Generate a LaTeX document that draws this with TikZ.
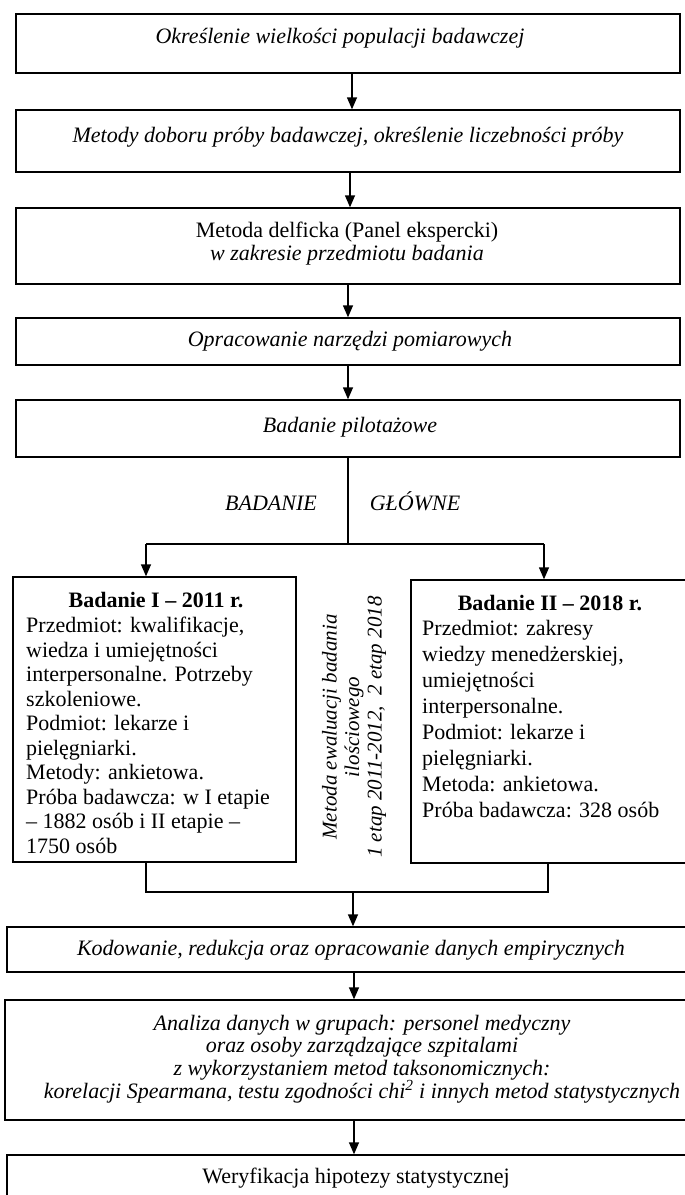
\documentclass[tikz,border=0pt]{standalone}
\usepackage{fontspec}
\setmainfont{Liberation Serif}
\usetikzlibrary{arrows.meta}

\tikzset{
  frame/.style={draw, line width=1.4pt, inner sep=0pt},
  flow/.style={line width=1.4pt},
  arr/.style={flow, -{Triangle[width=10pt,length=12pt]}},
  ital/.style={font=\fontsize{22}{23}\selectfont\itshape, inner sep=0pt,
               text height=15pt, text depth=5pt},
  italblock/.style={font=\fontsize{22}{23}\selectfont\itshape, inner sep=0pt, align=center},
  rom/.style={font=\fontsize{22}{23}\selectfont, inner sep=0pt,
              text height=15pt, text depth=5pt},
  head/.style={font=\fontsize{22}{23}\selectfont\bfseries, inner sep=0pt,
               text height=15pt, text depth=5pt},
  body/.style={font=\fontsize{22}{24.5}\selectfont, inner sep=0pt, align=left}
}

\begin{document}
\begin{tikzpicture}[x=1pt, y=-1pt]
\useasboundingbox (0,0) rectangle (685,1195);
\clip (0,0) rectangle (685,1195);

% frames of the steps
\node[frame, minimum width=664pt, minimum height=59pt] (b1) at (348,43.5) {};
\node[frame, minimum width=664pt, minimum height=62pt] (b2) at (348,141) {};
\node[frame, minimum width=664pt, minimum height=76pt] (b3) at (348,246) {};
\node[frame, minimum width=664pt, minimum height=47pt] (b4) at (348,341.5) {};
\node[frame, minimum width=664pt, minimum height=57pt] (b5) at (348,428.5) {};
\node[frame, minimum width=283pt, minimum height=285pt] (lb) at (154.5,719.5) {};
\node[frame, minimum width=300pt, minimum height=283pt] (rb) at (561,721.5) {};
\node[frame, minimum width=710pt, minimum height=45pt] (b6) at (362,949.5) {};
\node[frame, minimum width=715pt, minimum height=120pt] (b7) at (362.5,1060) {};
\node[frame, minimum width=710pt, minimum height=70pt] (b8) at (362,1190) {};

% texts of the steps
\node[ital] (t1) at (340,38) {Określenie wielkości populacji badawczej};
\node[ital] (t2) at (348,137) {Metody doboru próby badawczej, określenie liczebności próby};
\node[italblock, font=\fontsize{22}{23}\selectfont] (t3) at (347,243.5)
  {Metoda delficka (Panel ekspercki)\\ {\itshape w zakresie przedmiotu badania}};
\node[ital] (t4) at (350,341) {Opracowanie narzędzi pomiarowych};
\node[ital] (t5) at (350,427) {Badanie pilotażowe};

\node[ital] (lbl1) at (271,505) {BADANIE};
\node[ital] (lbl2) at (415,505) {GŁÓWNE};

\node[head] (h1) at (156,602) {Badanie I – 2011 r.};
\node[body, anchor=north west] (d1) at (26,617)
  {Przedmiot: kwalifikacje,\\ wiedza i umiejętności\\ interpersonalne. Potrzeby\\
   szkoleniowe.\\ Podmiot: lekarze i\\ pielęgniarki.\\ Metody: ankietowa.\\
   Próba badawcza: w I etapie\\ – 1882 osób i II etapie –\\ 1750 osób};

\node[head] (h2) at (550,605) {Badanie II – 2018 r.};
\node[body, font=\fontsize{22}{26}\selectfont, anchor=north west] (d2) at (422,620)
  {Przedmiot: zakresy\\ wiedzy menedżerskiej,\\ umiejętności\\ interpersonalne.\\
   Podmiot: lekarze i\\ pielęgniarki.\\ Metoda: ankietowa.\\ Próba badawcza: 328 osób};

\node[italblock, font=\fontsize{21}{22.5}\selectfont\itshape, rotate=90] (ev) at (354,727)
  {Metoda ewaluacji badania\\ ilościowego\\ 1 etap 2011-2012,\ \ 2 etap 2018};

\node[ital] (t6) at (351,950) {Kodowanie, redukcja oraz opracowanie danych empirycznych};
\node[italblock, font=\fontsize{22}{22.7}\selectfont\itshape] (t7) at (362,1059)
  {Analiza danych w grupach: personel medyczny\\ oraz osoby zarządzające szpitalami\\
   z wykorzystaniem metod taksonomicznych:\\
   korelacji Spearmana, testu zgodności chi\textsuperscript{2} i innych metod statystycznych};
\node[rom] (t8) at (356,1178) {Weryfikacja hipotezy statystycznej};

% connectors
\coordinate (a1) at (352,0);
\coordinate (a2) at (350,0);
\coordinate (a3) at (348,0);
\draw[arr] (b1.south -| a1) -- (b2.north -| a1);
\draw[arr] (b2.south -| a2) -- (b3.north -| a2);
\draw[arr] (b3.south -| a3) -- (b4.north -| a3);
\draw[arr] (b4.south -| a3) -- (b5.north -| a3);

\coordinate (split) at (348,544);
\coordinate (sl) at (146,544);
\coordinate (sr) at (544,544);
\draw[flow] (b5.south -| split) -- (split);
\draw[flow] (sl) -- (sr);
\draw[arr] (sl) -- (lb.north -| sl);
\draw[arr] (sr) -- (rb.north -| sr);

\coordinate (jl) at (146,892);
\coordinate (jr) at (548,892);
\coordinate (jm) at (353,892);
\draw[flow] (lb.south -| jl) -- (jl) -- (jr) -- (rb.south -| jr);
\draw[arr] (jm) -- (b6.north -| jm);
\coordinate (a4) at (354,0);
\draw[arr] (b6.south -| a4) -- (b7.north -| a4);
\draw[arr] (b7.south -| a4) -- (b8.north -| a4);
\end{tikzpicture}
\end{document}
